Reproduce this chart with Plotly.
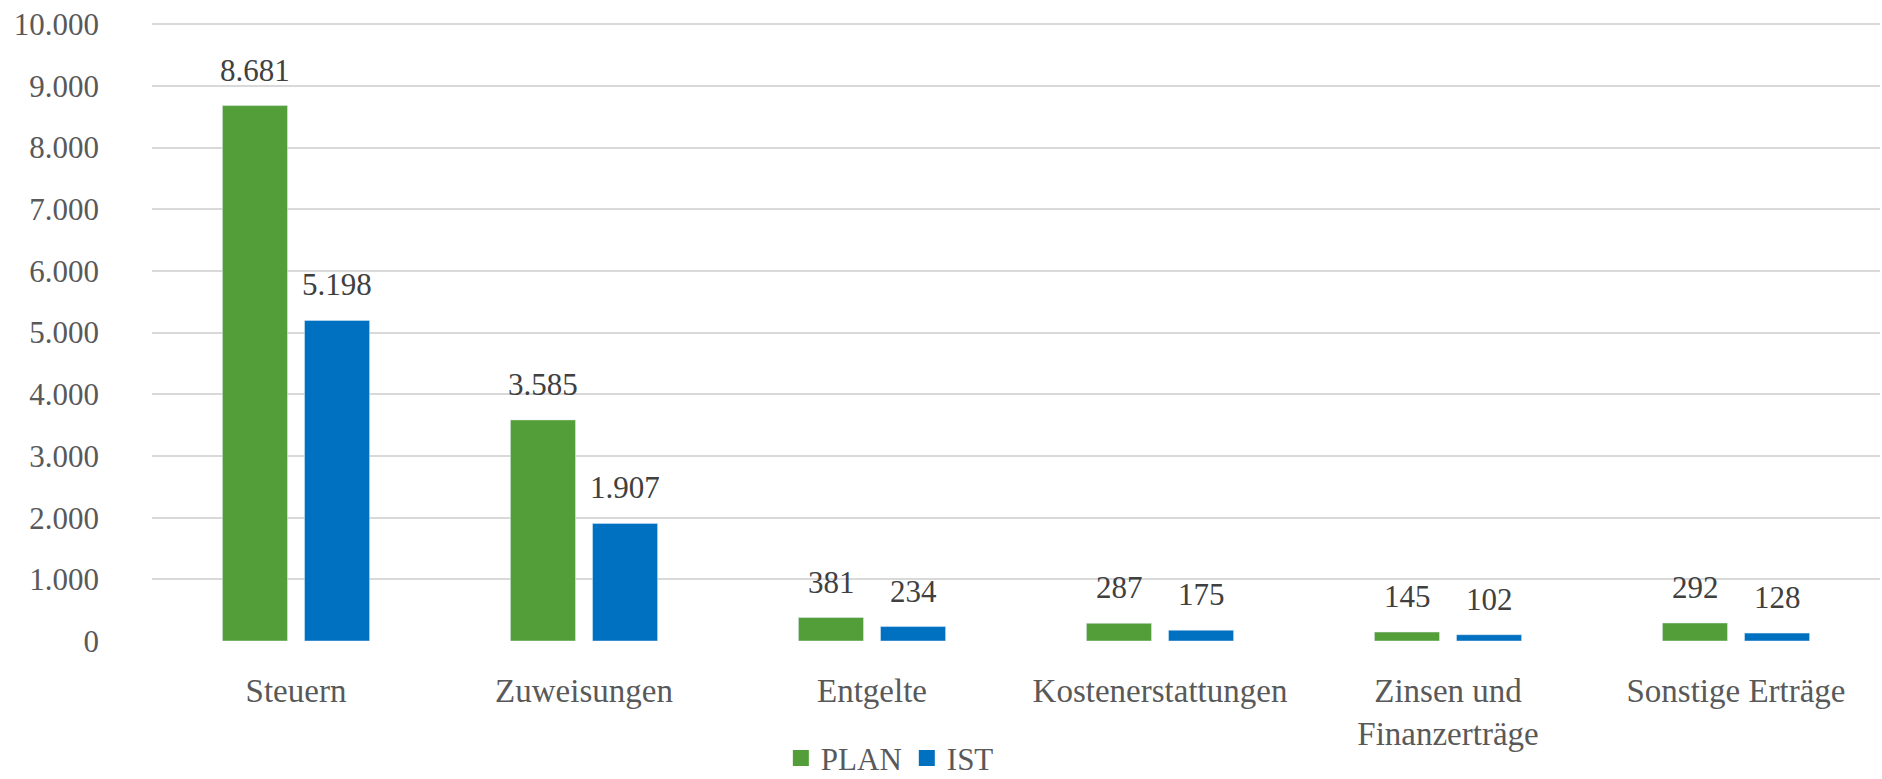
import plotly.graph_objects as go

categories = ["Steuern", "Zuweisungen", "Entgelte", "Kostenerstattungen",
              "Zinsen und<br>Finanzerträge", "Sonstige Erträge"]
plan = [8681, 3585, 381, 287, 145, 292]
ist = [5198, 1907, 234, 175, 102, 128]
series_names = ["PLAN", "IST"]
y_ticks = [0, 1000, 2000, 3000, 4000, 5000, 6000, 7000, 8000, 9000, 10000]

GREEN = "#549E39"
BLUE = "#0070C0"
FONT = "Liberation Serif"


def de(v):
    return f"{v:,}".replace(",", ".")


fig = go.Figure()
fig.add_trace(go.Bar(x=categories, y=plan, name=series_names[0], marker_color=GREEN,
                     showlegend=False))
fig.add_trace(go.Bar(x=categories, y=ist, name=series_names[1], marker_color=BLUE,
                     showlegend=False))
# legend entries with larger square swatches
for name, col in zip(series_names, (GREEN, BLUE)):
    fig.add_trace(go.Scatter(x=[None], y=[None], mode="markers", name=name,
                             marker=dict(symbol="square", size=20, color=col),
                             showlegend=True))

annotations = []
for vals, dx in ((plan, -41), (ist, 41)):
    for c, v in zip(categories, vals):
        annotations.append(dict(
            x=c, y=v, xref="x", yref="y", text=de(v), showarrow=False,
            xanchor="center", yanchor="bottom", xshift=dx, yshift=16,
            font=dict(family=FONT, size=31, color="#404040")))

fig.update_layout(
    width=1882, height=779,
    margin=dict(l=152, r=2, t=23, b=138, autoexpand=False),
    paper_bgcolor="white", plot_bgcolor="white",
    barmode="group", bargap=0.43, bargroupgap=0.207,
    separators=",.",
    font=dict(family=FONT, size=31, color="#595959"),
    showlegend=True,
    legend=dict(orientation="h", x=0.427, xanchor="center", y=-0.19, yanchor="middle",
                font=dict(family=FONT, size=31, color="#595959"),
                itemwidth=30, traceorder="normal"),
    annotations=annotations,
)
fig.update_yaxes(range=[0, 10020], tickvals=y_ticks, ticktext=[de(v) for v in y_ticks],
                 showgrid=True, gridcolor="#D9D9D9", gridwidth=1.5, zeroline=False,
                 showline=False, ticklabelstandoff=52, automargin=False,
                 tickfont=dict(family=FONT, size=31, color="#595959"))
fig.update_xaxes(showline=False, showgrid=False, ticklabelstandoff=27, automargin=False,
                 tickfont=dict(family=FONT, size=33, color="#595959"))

fig.write_html("out.html", config={"displayModeBar": False},
               post_script="document.body.style.margin='0';document.body.style.overflow='hidden';")
